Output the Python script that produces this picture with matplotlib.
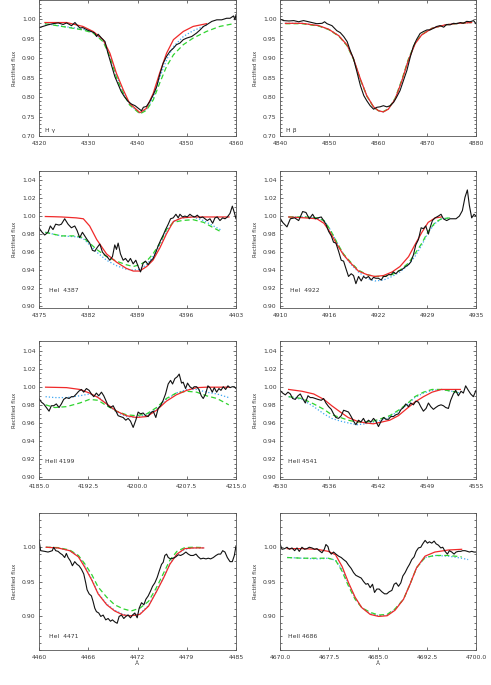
import numpy as np
import matplotlib
matplotlib.use("Agg")
import matplotlib.pyplot as plt
from matplotlib.ticker import FixedLocator, MultipleLocator, FixedFormatter, FormatStrFormatter

nan = np.nan

# ---- H gamma ----
hg_w = [4320.0, 4320.8, 4321.8, 4322.8, 4323.9, 4324.9, 4325.6, 4326.6, 4327.3, 4327.7, 4328.3, 4328.9,
        4329.8, 4330.6, 4331.3, 4331.7, 4332.0, 4332.7, 4333.4, 4334.0, 4334.7, 4335.4, 4336.1, 4336.7,
        4337.4, 4338.1, 4338.8, 4339.5, 4340.1, 4340.8, 4341.2, 4341.8, 4342.5, 4343.2, 4343.9, 4344.5,
        4345.2, 4345.9, 4346.6, 4347.3, 4347.9, 4348.6, 4349.3, 4350.0, 4351.0, 4352.0, 4352.7, 4353.4,
        4354.0, 4355.1, 4356.1, 4357.1, 4358.1, 4358.8, 4359.5, 4359.8, 4360.0]
hg_obs = [0.979, 0.982, 0.986, 0.989, 0.991, 0.987, 0.991, 0.984, 0.992, 0.986, 0.978, 0.979,
          0.973, 0.969, 0.965, 0.956, 0.962, 0.952, 0.943, 0.913, 0.883, 0.853, 0.832, 0.814,
          0.800, 0.789, 0.782, 0.778, 0.772, 0.765, 0.774, 0.776, 0.789, 0.806, 0.827, 0.857,
          0.887, 0.905, 0.918, 0.926, 0.935, 0.939, 0.948, 0.952, 0.956, 0.965, 0.973, 0.982,
          0.986, 0.995, 0.999, 0.999, 1.003, 1.003, 1.009, 0.999, 1.012]
hg_mw = [4321.2, 4325.6, 4328.9, 4331.0, 4333.0, 4334.4, 4335.7, 4337.1, 4338.4, 4340.5,
         4341.8, 4343.2, 4344.5, 4345.9, 4347.3, 4349.3, 4351.3, 4354.0, 4356.7, 4359.5]
hg_red = [0.992, 0.992, 0.982, 0.969, 0.948, 0.913, 0.862, 0.819, 0.784, 0.760,
          0.771, 0.810, 0.862, 0.913, 0.948, 0.969, 0.982, 0.989, nan, nan]
hg_green = [0.989, 0.980, 0.973, 0.965, 0.943, 0.905, 0.852, 0.810, 0.780, 0.757,
            0.766, 0.793, 0.836, 0.879, 0.909, 0.935, 0.952, 0.969, 0.982, 0.989]
hg_blue = [0.989, 0.981, 0.975, 0.966, 0.945, 0.908, 0.856, 0.813, 0.781, 0.758,
           0.768, 0.800, 0.850, 0.896, 0.930, 0.956, 0.971, 0.985, nan, nan]

# ---- H beta ----
hb_w = [4840.0, 4840.7, 4841.8, 4842.8, 4843.8, 4844.8, 4845.5, 4846.5, 4847.5, 4848.6, 4849.1, 4849.6,
        4850.6, 4851.6, 4852.3, 4853.0, 4853.7, 4854.3, 4855.0, 4855.7, 4856.4, 4857.1, 4857.7, 4858.4,
        4859.1, 4859.8, 4860.4, 4861.1, 4861.8, 4862.5, 4863.2, 4863.8, 4864.5, 4865.2, 4865.9, 4866.6,
        4867.2, 4867.9, 4868.6, 4869.3, 4870.0, 4870.6, 4871.3, 4872.0, 4872.7, 4873.4, 4874.0, 4874.7,
        4875.4, 4876.1, 4876.8, 4877.4, 4878.1, 4878.8, 4879.5, 4880.0]
hb_obs = [1.001, 0.997, 0.996, 0.997, 0.994, 0.997, 0.995, 0.992, 0.989, 0.990, 0.994, 0.989,
          0.984, 0.971, 0.966, 0.956, 0.943, 0.921, 0.899, 0.865, 0.830, 0.804, 0.791, 0.778,
          0.769, 0.774, 0.775, 0.778, 0.775, 0.778, 0.787, 0.800, 0.817, 0.843, 0.869, 0.904,
          0.930, 0.949, 0.964, 0.969, 0.973, 0.973, 0.977, 0.982, 0.984, 0.980, 0.987, 0.986,
          0.990, 0.989, 0.992, 0.990, 0.995, 0.994, 0.997, 0.989]
hb_mw = [4841.1, 4844.5, 4847.9, 4849.9, 4852.0, 4853.7, 4855.0, 4856.4, 4857.7, 4859.1, 4860.1,
         4861.1, 4862.1, 4863.5, 4864.9, 4866.2, 4867.6, 4868.9, 4871.0, 4873.7, 4876.4, 4879.1]
hb_red = [0.990, 0.990, 0.984, 0.975, 0.958, 0.934, 0.899, 0.847, 0.804, 0.775, 0.765,
          0.762, 0.769, 0.795, 0.843, 0.895, 0.938, 0.960, 0.977, 0.986, 0.990, 0.992]
hb_green = [0.989, 0.989, 0.983, 0.974, 0.957, 0.932, 0.897, 0.845, 0.803, 0.774, 0.765,
            0.763, 0.770, 0.797, 0.846, 0.898, 0.940, 0.961, 0.977, 0.986, 0.990, 0.992]
hb_blue = [0.990, 0.990, 0.984, 0.975, 0.958, 0.933, 0.898, 0.846, 0.804, 0.775, 0.765,
           0.762, 0.769, 0.796, 0.844, 0.896, 0.939, 0.960, 0.977, 0.986, 0.990, 0.992]

# ---- HeI 4387 ----
he4387_w = [4375.00, 4375.33, 4375.81, 4376.28, 4376.61, 4376.99, 4377.37, 4377.85, 4378.18, 4378.65,
            4379.13, 4379.60, 4380.08, 4380.41, 4380.79, 4381.17, 4381.50, 4381.83, 4382.21, 4382.59,
            4382.93, 4383.26, 4383.64, 4384.02, 4384.35, 4384.68, 4385.06, 4385.44, 4385.77, 4386.01,
            4386.25, 4386.58, 4386.96, 4387.29, 4387.67, 4388.00, 4388.38, 4388.76, 4389.10, 4389.43,
            4389.81, 4390.14, 4390.52, 4390.85, 4391.23, 4391.61, 4391.94, 4392.28, 4392.66, 4392.99,
            4393.37, 4393.70, 4394.08, 4394.46, 4394.79, 4395.03, 4395.41, 4395.74, 4396.07, 4396.45,
            4396.78, 4397.16, 4397.50, 4397.88, 4398.26, 4398.59, 4398.92, 4399.30, 4399.68, 4400.01,
            4400.34, 4400.72, 4401.10, 4401.44, 4401.77, 4402.15, 4402.48, 4402.76, 4403.00]
he4387_obs = [0.987, 0.983, 0.979, 0.982, 0.989, 0.985, 0.991, 0.990, 0.991, 0.997,
              0.991, 0.987, 0.989, 0.984, 0.976, 0.982, 0.978, 0.974, 0.970, 0.962,
              0.961, 0.965, 0.969, 0.960, 0.957, 0.955, 0.951, 0.955, 0.968, 0.963,
              0.970, 0.958, 0.951, 0.953, 0.949, 0.953, 0.947, 0.951, 0.944, 0.938,
              0.948, 0.950, 0.946, 0.950, 0.953, 0.960, 0.967, 0.973, 0.979, 0.985,
              0.991, 0.997, 0.998, 1.002, 0.998, 1.002, 0.999, 1.000, 0.999, 1.002,
              1.000, 0.999, 1.001, 0.998, 0.999, 0.997, 0.995, 0.997, 0.992, 0.998,
              0.999, 0.995, 0.998, 0.997, 0.999, 1.003, 1.011, 1.004, 0.997]
he4387_mw = [4375.9, 4377.0, 4378.2, 4380.3, 4381.3, 4382.2, 4383.2, 4384.6, 4386.0, 4387.4, 4388.4, 4389.3,
             4390.3, 4391.2, 4392.2, 4393.1, 4394.1, 4395.3, 4396.9, 4398.4, 4399.8, 4401.0, 4402.0]
he4387_red = [0.9995, 0.9993, 0.999, 0.998, 0.997, 0.989, 0.974, 0.958, 0.949, 0.942, 0.939, 0.939,
              0.944, 0.951, 0.965, 0.980, 0.994, 0.998, 0.999, 0.999, 0.999, 0.999, 0.999]
he4387_green = [0.982, 0.980, 0.978, 0.978, 0.976, 0.970, 0.963, 0.955, 0.950, 0.946, 0.944, 0.946,
                0.950, 0.958, 0.970, 0.985, 0.993, 0.995, 0.996, 0.993, 0.987, 0.982, nan]
he4387_blue = [0.982, 0.980, 0.978, 0.977, 0.975, 0.968, 0.960, 0.951, 0.945, 0.941, 0.940, 0.941,
               0.946, 0.955, 0.968, 0.983, 0.994, 0.998, 0.999, 0.995, 0.989, 0.984, nan]

# ---- HeI 4922 ----
he4922_w = [4910.00, 4910.34, 4910.89, 4911.32, 4911.87, 4912.38, 4912.89, 4913.31, 4913.74, 4914.16,
            4914.50, 4914.84, 4915.26, 4915.56, 4915.86, 4916.20, 4916.54, 4916.83, 4917.13, 4917.47,
            4917.81, 4918.11, 4918.40, 4918.74, 4919.08, 4919.38, 4919.68, 4920.02, 4920.36, 4920.65,
            4920.95, 4921.29, 4921.63, 4921.93, 4922.22, 4922.56, 4922.90, 4923.20, 4923.50, 4923.84,
            4924.18, 4924.47, 4924.77, 4925.11, 4925.45, 4925.75, 4926.04, 4926.38, 4926.68, 4927.02,
            4927.32, 4927.66, 4928.00, 4928.29, 4928.59, 4928.93, 4929.14, 4929.44, 4929.78, 4930.20,
            4930.54, 4930.84, 4931.26, 4931.69, 4932.11, 4932.45, 4932.88, 4933.26, 4933.60, 4933.90,
            4934.15, 4934.45, 4934.75, 4935.00]
he4922_obs = [0.998, 0.993, 0.988, 0.997, 0.998, 0.995, 1.005, 1.004, 0.997, 1.002,
              0.997, 0.998, 0.999, 0.995, 0.991, 0.983, 0.978, 0.971, 0.970, 0.961,
              0.951, 0.950, 0.942, 0.933, 0.936, 0.934, 0.925, 0.933, 0.928, 0.933,
              0.931, 0.933, 0.929, 0.932, 0.931, 0.931, 0.929, 0.933, 0.933, 0.935,
              0.935, 0.938, 0.936, 0.939, 0.940, 0.942, 0.944, 0.946, 0.949, 0.957,
              0.968, 0.974, 0.987, 0.986, 0.989, 0.980, 0.987, 0.995, 0.998, 1.000,
              1.002, 0.997, 0.995, 0.997, 0.997, 0.997, 1.000, 1.006, 1.021, 1.029,
              1.012, 0.998, 1.002, 1.000]
he4922_mw = [4911.1, 4913.2, 4914.7, 4915.6, 4916.4, 4917.3, 4918.1, 4919.0, 4920.0, 4921.1, 4922.1,
             4923.2, 4924.3, 4925.3, 4926.4, 4927.2, 4928.1, 4928.9, 4929.8, 4930.6, 4931.7]
he4922_red = [0.999, 0.998, 0.997, 0.992, 0.982, 0.968, 0.957, 0.948, 0.939, 0.935, 0.933,
              0.934, 0.938, 0.944, 0.955, 0.968, 0.982, 0.993, 0.998, 0.999, nan]
he4922_green = [0.999, 0.999, 0.998, 0.995, 0.985, 0.970, 0.958, 0.949, 0.940, 0.935, 0.933,
                0.933, 0.935, 0.940, 0.948, 0.958, 0.970, 0.983, 0.993, 0.997, 0.998]
he4922_blue = [0.999, 0.999, 0.998, 0.995, 0.985, 0.970, 0.957, 0.947, 0.938, 0.931, 0.928,
               0.929, 0.933, 0.938, 0.946, 0.955, 0.968, 0.982, 0.992, 0.997, 0.998]

# ---- HeII 4199 ----
he4199_w = [4185.00, 4185.36, 4185.71, 4186.12, 4186.53, 4186.88, 4187.24, 4187.64, 4188.05, 4188.41,
            4188.76, 4189.17, 4189.58, 4189.93, 4190.29, 4190.69, 4191.05, 4191.46, 4191.81, 4192.22,
            4192.63, 4192.98, 4193.34, 4193.74, 4194.10, 4194.51, 4194.86, 4195.17, 4195.52, 4195.88,
            4196.29, 4196.64, 4197.05, 4197.40, 4197.81, 4198.22, 4198.57, 4198.93, 4199.34, 4199.74,
            4200.10, 4200.46, 4200.86, 4201.22, 4201.62, 4201.98, 4202.39, 4202.79, 4203.15, 4203.51,
            4203.91, 4204.27, 4204.67, 4205.03, 4205.34, 4205.69, 4206.05, 4206.35, 4206.71, 4206.96,
            4207.32, 4207.62, 4207.98, 4208.34, 4208.64, 4209.00, 4209.35, 4209.71, 4210.01, 4210.37,
            4210.72, 4211.03, 4211.39, 4211.69, 4212.05, 4212.40, 4212.71, 4213.06, 4213.42, 4213.77,
            4214.08, 4214.44, 4214.74, 4215.00]
he4199_obs = [0.987, 0.983, 0.981, 0.977, 0.973, 0.979, 0.979, 0.981, 0.977, 0.981,
              0.986, 0.988, 0.987, 0.989, 0.989, 0.992, 0.995, 0.997, 0.994, 0.998,
              0.996, 0.992, 0.989, 0.993, 0.990, 0.994, 0.990, 0.985, 0.979, 0.977,
              0.979, 0.974, 0.968, 0.967, 0.966, 0.963, 0.965, 0.962, 0.955, 0.963,
              0.972, 0.970, 0.971, 0.968, 0.967, 0.971, 0.973, 0.966, 0.976, 0.979,
              0.985, 0.992, 1.003, 1.007, 1.003, 1.009, 1.011, 1.014, 1.004, 1.005,
              0.998, 1.004, 1.000, 0.998, 1.000, 1.000, 0.997, 0.990, 0.987, 0.992,
              1.001, 0.999, 0.994, 0.999, 0.994, 0.998, 0.996, 1.000, 0.997, 1.001,
              0.999, 1.000, 1.000, 0.998]
he4199_mw = [4186.0, 4187.4, 4189.2, 4191.2, 4192.7, 4194.0, 4195.3, 4196.8, 4198.3, 4199.8,
             4201.4, 4202.9, 4204.4, 4205.9, 4207.5, 4209.0, 4210.5, 4212.1, 4213.9]
he4199_red = [0.9995, 0.9993, 0.999, 0.997, 0.993, 0.988, 0.981, 0.973, 0.968, 0.966,
              0.967, 0.974, 0.984, 0.991, 0.996, 0.999, 0.9995, 0.9995, 0.9995]
he4199_green = [0.980, 0.977, 0.978, 0.982, 0.986, 0.985, 0.979, 0.973, 0.969, 0.968,
                0.970, 0.977, 0.987, 0.993, 0.995, 0.994, 0.990, 0.987, 0.980]
he4199_blue = [0.989, 0.988, 0.988, 0.990, 0.992, 0.989, 0.981, 0.972, 0.967, 0.966,
               0.969, 0.975, 0.986, 0.993, 0.997, 0.997, 0.994, 0.992, 0.988]

# ---- HeII 4541 ----
he4541_w = [4530.00, 4530.34, 4530.68, 4531.02, 4531.32, 4531.61, 4531.95, 4532.29, 4532.59, 4532.89,
            4533.23, 4533.57, 4533.86, 4534.16, 4534.50, 4534.84, 4535.26, 4535.56, 4535.86, 4536.20,
            4536.54, 4536.83, 4537.13, 4537.47, 4537.81, 4538.11, 4538.45, 4538.74, 4539.08, 4539.38,
            4539.68, 4540.02, 4540.31, 4540.65, 4540.95, 4541.29, 4541.59, 4541.93, 4542.22, 4542.56,
            4542.90, 4543.20, 4543.50, 4543.84, 4544.13, 4544.47, 4544.77, 4545.11, 4545.45, 4545.75,
            4546.04, 4546.38, 4546.68, 4547.02, 4547.32, 4547.66, 4547.95, 4548.29, 4548.63, 4548.93,
            4549.23, 4549.57, 4549.86, 4550.20, 4550.54, 4550.84, 4551.14, 4551.48, 4551.77, 4552.11,
            4552.41, 4552.75, 4553.09, 4553.39, 4553.68, 4554.02, 4554.32, 4554.66, 4555.00]
he4541_obs = [0.996, 0.993, 0.991, 0.994, 0.992, 0.987, 0.986, 0.990, 0.992, 0.987,
              0.982, 0.990, 0.988, 0.988, 0.987, 0.986, 0.985, 0.987, 0.982, 0.978,
              0.975, 0.970, 0.966, 0.965, 0.968, 0.974, 0.973, 0.972, 0.967, 0.962,
              0.958, 0.963, 0.961, 0.965, 0.960, 0.963, 0.961, 0.965, 0.962, 0.956,
              0.962, 0.966, 0.964, 0.964, 0.967, 0.967, 0.969, 0.970, 0.975, 0.977,
              0.981, 0.978, 0.982, 0.980, 0.984, 0.983, 0.978, 0.973, 0.976, 0.982,
              0.978, 0.975, 0.977, 0.979, 0.980, 0.979, 0.977, 0.976, 0.985, 0.992,
              0.996, 0.990, 0.995, 0.993, 1.001, 0.996, 0.992, 0.989, 0.996]
he4541_mw = [4531.1, 4532.8, 4534.3, 4535.6, 4536.6, 4537.7, 4538.7, 4539.8, 4540.9, 4541.9,
             4543.0, 4544.0, 4545.1, 4546.2, 4547.2, 4548.3, 4549.4, 4550.6, 4551.9, 4553.0]
he4541_red = [0.997, 0.995, 0.992, 0.986, 0.979, 0.972, 0.966, 0.962, 0.960, 0.959,
              0.961, 0.963, 0.968, 0.976, 0.983, 0.989, 0.994, 0.997, 0.997, 0.997]
he4541_green = [0.989, 0.987, 0.981, 0.975, 0.969, 0.966, 0.963, 0.961, 0.961, 0.962,
                0.965, 0.968, 0.974, 0.981, 0.989, 0.994, 0.997, 0.997, 0.995, 0.993]
he4541_blue = [0.989, 0.986, 0.978, 0.970, 0.965, 0.962, 0.960, 0.958, 0.959, 0.961,
               0.963, 0.967, 0.973, 0.980, 0.988, 0.993, 0.996, 0.997, 0.995, 0.993]

# ---- HeI 4471 ----
he4471_w = [4460.00, 4460.21, 4460.72, 4461.14, 4461.44, 4461.69, 4461.86, 4462.12, 4462.42, 4462.71,
            4462.97, 4463.26, 4463.47, 4463.69, 4463.98, 4464.24, 4464.53, 4464.83, 4465.08, 4465.38,
            4465.68, 4465.93, 4466.10, 4466.36, 4466.65, 4466.86, 4467.08, 4467.29, 4467.58, 4467.84,
            4468.14, 4468.47, 4468.77, 4469.07, 4469.32, 4469.62, 4469.92, 4470.17, 4470.47, 4470.76,
            4471.02, 4471.31, 4471.61, 4471.86, 4472.16, 4472.46, 4472.71, 4473.01, 4473.31, 4473.56,
            4473.86, 4474.15, 4474.41, 4474.70, 4475.00, 4475.25, 4475.55, 4475.76, 4475.97, 4476.19,
            4476.40, 4476.69, 4477.03, 4477.37, 4477.67, 4477.97, 4478.31, 4478.64, 4478.94, 4479.24,
            4479.58, 4479.92, 4480.21, 4480.51, 4480.85, 4481.19, 4481.48, 4481.78, 4482.12, 4482.46,
            4482.75, 4483.05, 4483.31, 4483.60, 4483.90, 4484.24, 4484.53, 4484.79, 4485.00]
he4471_obs = [1.011, 0.995, 0.994, 0.993, 0.994, 0.995, 1.000, 0.995, 0.994, 0.991,
              0.989, 0.985, 0.991, 0.985, 0.980, 0.973, 0.979, 0.975, 0.973, 0.968,
              0.961, 0.948, 0.938, 0.932, 0.929, 0.921, 0.911, 0.906, 0.904, 0.899,
              0.901, 0.894, 0.896, 0.892, 0.894, 0.891, 0.889, 0.899, 0.901, 0.896,
              0.899, 0.901, 0.897, 0.901, 0.904, 0.897, 0.911, 0.919, 0.916, 0.924,
              0.929, 0.936, 0.943, 0.948, 0.956, 0.965, 0.975, 0.978, 0.988, 0.990,
              0.985, 0.983, 0.984, 0.986, 0.989, 0.988, 0.990, 0.993, 0.990, 0.988,
              0.988, 0.990, 0.986, 0.983, 0.984, 0.983, 0.984, 0.983, 0.985, 0.988,
              0.990, 0.990, 0.995, 0.993, 0.985, 0.979, 0.979, 0.988, 1.002]
he4471_mw = [4460.9, 4462.4, 4463.9, 4465.0, 4465.8, 4466.7, 4467.5, 4468.6, 4469.6, 4470.7,
             4471.7, 4472.8, 4473.9, 4474.9, 4475.8, 4476.6, 4477.5, 4478.5, 4479.6, 4480.9]
he4471_red = [1.000, 0.999, 0.995, 0.986, 0.971, 0.952, 0.932, 0.916, 0.907, 0.901,
              0.900, 0.902, 0.914, 0.935, 0.955, 0.975, 0.990, 0.998, 0.999, 0.999]
he4471_green = [1.000, 0.9995, 0.996, 0.988, 0.976, 0.960, 0.942, 0.927, 0.916, 0.910,
                0.907, 0.911, 0.921, 0.941, 0.962, 0.981, 0.994, 0.9995, 1.000, 0.9995]
he4471_blue = [1.000, 0.999, 0.995, 0.987, 0.973, 0.953, 0.933, 0.917, 0.908, 0.902,
               0.900, 0.903, 0.915, 0.936, 0.956, 0.976, 0.990, 0.997, 0.999, 0.999]

# ---- HeII 4686 ----
he4686_w = [4670.00, 4670.31, 4670.71, 4671.07, 4671.43, 4671.83, 4672.24, 4672.60, 4672.95, 4673.36,
            4673.77, 4674.13, 4674.48, 4674.89, 4675.30, 4675.65, 4676.01, 4676.42, 4676.78, 4677.03,
            4677.34, 4677.54, 4677.85, 4678.20, 4678.56, 4678.97, 4679.37, 4679.73, 4680.14, 4680.49,
            4680.90, 4681.26, 4681.61, 4682.02, 4682.43, 4682.79, 4683.14, 4683.45, 4683.81, 4684.16,
            4684.47, 4684.82, 4685.18, 4685.59, 4686.00, 4686.35, 4686.71, 4687.12, 4687.47, 4687.78,
            4688.14, 4688.49, 4688.80, 4689.15, 4689.51, 4689.82, 4690.17, 4690.53, 4690.84, 4691.19,
            4691.55, 4691.85, 4692.21, 4692.57, 4692.87, 4693.23, 4693.59, 4693.89, 4694.25, 4694.61,
            4694.91, 4695.27, 4695.62, 4695.93, 4696.29, 4696.64, 4696.95, 4697.31, 4697.66, 4697.97,
            4698.32, 4698.68, 4698.99, 4699.34, 4699.70, 4700.00]
he4686_obs = [1.005, 0.997, 0.998, 1.000, 0.997, 0.999, 0.995, 0.999, 0.994, 1.000,
              0.997, 0.998, 1.000, 0.999, 0.997, 0.998, 0.995, 0.992, 0.997, 1.004,
              1.001, 0.994, 0.990, 0.993, 0.990, 0.987, 0.985, 0.982, 0.979, 0.974,
              0.969, 0.963, 0.959, 0.957, 0.955, 0.950, 0.946, 0.947, 0.941, 0.946,
              0.934, 0.939, 0.939, 0.935, 0.932, 0.932, 0.935, 0.937, 0.946, 0.948,
              0.943, 0.948, 0.958, 0.963, 0.970, 0.975, 0.982, 0.986, 0.994, 0.999,
              1.000, 1.005, 1.010, 1.006, 1.008, 1.006, 1.009, 1.005, 1.003, 0.999,
              1.000, 0.994, 0.990, 0.995, 0.993, 0.990, 0.993, 0.994, 0.994, 0.995,
              0.995, 0.994, 0.993, 0.994, 0.993, 0.993]
he4686_mw = [4671.1, 4673.4, 4675.7, 4677.4, 4678.5, 4679.5, 4680.5, 4681.5, 4682.5, 4683.8,
             4685.1, 4686.4, 4687.6, 4688.9, 4689.9, 4690.9, 4692.2, 4693.7, 4695.8, 4697.8, 4698.8]
he4686_red = [0.998, 0.998, 0.997, 0.994, 0.989, 0.972, 0.948, 0.927, 0.912, 0.902,
              0.899, 0.900, 0.908, 0.924, 0.946, 0.970, 0.987, 0.993, 0.996, 0.997, nan]
he4686_green = [0.985, 0.984, 0.984, 0.984, 0.981, 0.965, 0.943, 0.924, 0.912, 0.905,
                0.901, 0.902, 0.910, 0.924, 0.946, 0.970, 0.985, 0.988, 0.988, 0.986, nan]
he4686_blue = [0.985, 0.984, 0.983, 0.984, 0.981, 0.968, 0.946, 0.926, 0.912, 0.903,
               0.900, 0.901, 0.909, 0.924, 0.946, 0.970, 0.985, 0.988, 0.987, 0.984, 0.982]

FIG_W, FIG_H = 491, 685
TXT = "#3a3a3a"
FS = 4.4

fig = plt.figure(figsize=(FIG_W / 100, FIG_H / 100), dpi=100)
plt.rcParams['font.family'] = ['DejaVu Sans']


def make_axes(x0, top, w, bottom):
    return fig.add_axes([x0 / FIG_W, 1 - bottom / FIG_H, w / FIG_W, (bottom - top) / FIG_H])


def draw_panel(ax, w, obs, mw, red, green, blue, xlim, xticks, xlabels, ylim, yticks, ystep, label, lx, ly):
    ax.plot(mw, blue, color="#3ea6f2", lw=0.9, ls=(0, (1, 1.6)))
    ax.plot(mw, green, color="#2fd42f", lw=0.9, ls=(0, (4, 2.5)))
    ax.plot(mw, red, color="#f02a2a", lw=0.9)
    ax.plot(w, obs, color="#111111", lw=0.8)
    ax.set_xlim(*xlim)
    ax.set_ylim(*ylim)
    ax.xaxis.set_major_locator(FixedLocator(xticks))
    ax.xaxis.set_major_formatter(FixedFormatter(xlabels))
    ax.yaxis.set_major_locator(FixedLocator(yticks))
    ax.yaxis.set_major_formatter(FormatStrFormatter('%.2f'))
    ax.yaxis.set_minor_locator(MultipleLocator(ystep))
    ax.tick_params(which='both', direction='in', top=True, right=True, colors=TXT,
                   labelsize=FS, width=0.5)
    ax.tick_params(which='major', length=2.4, pad=2.5)
    ax.tick_params(which='minor', length=1.2)
    ax.tick_params(axis='x', pad=3.5)
    for s in ax.spines.values():
        s.set_linewidth(0.6)
        s.set_color("#555555")
    ax.text(lx, ly, label, transform=ax.transAxes, fontsize=FS, color=TXT, ha='left', va='bottom')


LX, RX = 39, 280
LW, RW = 197, 196
rows = [(0, 136), (171, 308), (341.5, 479), (513, 650)]

y_r1 = [0.70, 0.75, 0.80, 0.85, 0.90, 0.95, 1.00]
y_mid = [0.90, 0.92, 0.94, 0.96, 0.98, 1.00, 1.02, 1.04]
y_r4 = [0.90, 0.95, 1.00]

ax = make_axes(LX, rows[0][0], LW, rows[0][1])
draw_panel(ax, hg_w, hg_obs, hg_mw, hg_red, hg_green, hg_blue, (4320, 4360),
           [4320, 4330, 4340, 4350, 4360], ['4320', '4330', '4340', '4350', '4360'],
           (0.70, 1.05), y_r1, 0.01, "H γ", 0.03, 0.02)
ax = make_axes(RX, rows[0][0], RW, rows[0][1])
draw_panel(ax, hb_w, hb_obs, hb_mw, hb_red, hb_green, hb_blue, (4840, 4880),
           [4840, 4850, 4860, 4870, 4880], ['4840', '4850', '4860', '4870', '4880'],
           (0.70, 1.05), y_r1, 0.01, "H β", 0.03, 0.02)

ax = make_axes(LX, rows[1][0], LW, rows[1][1])
draw_panel(ax, he4387_w, he4387_obs, he4387_mw, he4387_red, he4387_green, he4387_blue, (4375, 4403),
           [4375, 4382, 4389, 4396, 4403], ['4375', '4382', '4389', '4396', '4403'],
           (0.898, 1.05), y_mid, 0.005, "HeI  4387", 0.05, 0.11)
ax = make_axes(RX, rows[1][0], RW, rows[1][1])
draw_panel(ax, he4922_w, he4922_obs, he4922_mw, he4922_red, he4922_green, he4922_blue, (4910, 4935),
           [4910, 4916.25, 4922.5, 4928.75, 4935], ['4910', '4916', '4922', '4929', '4935'],
           (0.898, 1.05), y_mid, 0.005, "HeI  4922", 0.05, 0.11)

ax = make_axes(LX, rows[2][0], LW, rows[2][1])
draw_panel(ax, he4199_w, he4199_obs, he4199_mw, he4199_red, he4199_green, he4199_blue, (4185, 4215),
           [4185, 4192.5, 4200, 4207.5, 4215], ['4185.0', '4192.5', '4200.0', '4207.5', '4215.0'],
           (0.898, 1.05), y_mid, 0.005, "HeII 4199", 0.03, 0.11)
ax = make_axes(RX, rows[2][0], RW, rows[2][1])
draw_panel(ax, he4541_w, he4541_obs, he4541_mw, he4541_red, he4541_green, he4541_blue, (4530, 4555),
           [4530, 4536.25, 4542.5, 4548.75, 4555], ['4530', '4536', '4542', '4549', '4555'],
           (0.898, 1.05), y_mid, 0.005, "HeII 4541", 0.04, 0.11)

ax = make_axes(LX, rows[3][0], LW, rows[3][1])
draw_panel(ax, he4471_w, he4471_obs, he4471_mw, he4471_red, he4471_green, he4471_blue, (4460, 4485),
           [4460, 4466.25, 4472.5, 4478.75, 4485], ['4460', '4466', '4472', '4479', '4485'],
           (0.85, 1.05), y_r4, 0.01, "HeI  4471", 0.05, 0.08)
ax.set_xlabel("Å", fontsize=FS, color=TXT, labelpad=0.5)
ax = make_axes(RX, rows[3][0], RW, rows[3][1])
draw_panel(ax, he4686_w, he4686_obs, he4686_mw, he4686_red, he4686_green, he4686_blue, (4670, 4700),
           [4670, 4677.5, 4685, 4692.5, 4700], ['4670.0', '4677.5', '4685.0', '4692.5', '4700.0'],
           (0.85, 1.05), y_r4, 0.01, "HeII 4686", 0.04, 0.08)
ax.set_xlabel("Å", fontsize=FS, color=TXT, labelpad=0.5)

for (top, bottom) in rows:
    yc = 1 - (top + bottom) / 2 / FIG_H
    fig.text(15 / FIG_W, yc, "Rectified flux", rotation=90, fontsize=3.9, color=TXT, ha='center', va='center')
    fig.text(256 / FIG_W, yc, "Rectified flux", rotation=90, fontsize=3.9, color=TXT, ha='center', va='center')

fig.savefig("out.png", dpi=100, facecolor="white")
